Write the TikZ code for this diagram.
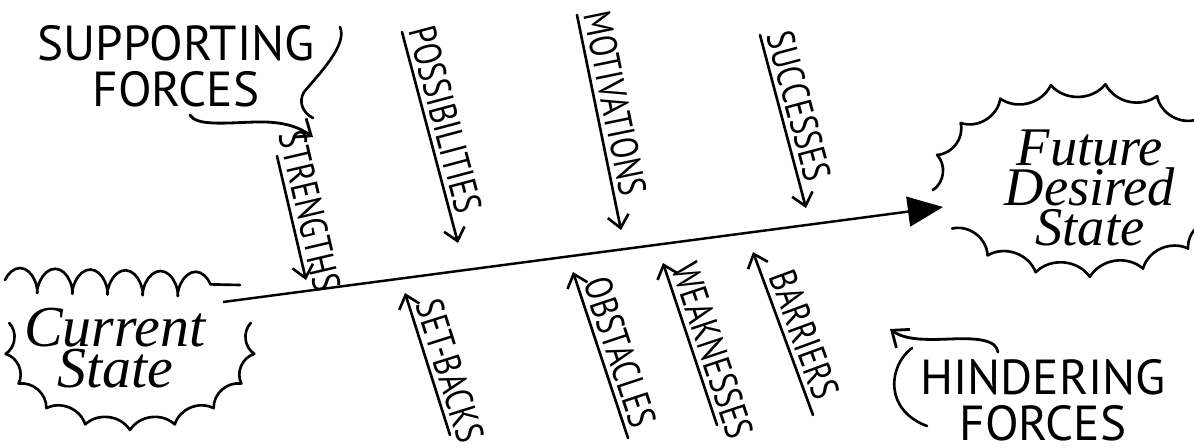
\documentclass[tikz,border=0pt]{standalone}
\usepackage{fontspec}
\usepackage{graphicx}
\usetikzlibrary{arrows.meta,decorations.pathmorphing,positioning}
\newfontfamily\capsfont{PT Sans}
\newfontfamily\cursivefont{Liberation Serif}
\newcommand{\squeeze}[1]{\scalebox{0.8}[1]{#1}}

\begin{document}
\begin{tikzpicture}[
    x=0.02cm, y=0.02cm,
    force/.style={-{Straight Barb[length=7pt,width=12pt]}, line width=1.5pt, line cap=round},
    pointer/.style={-{Straight Barb[length=8pt,width=13pt]}, line width=1.6pt, line cap=round},
    lbl/.style={sloped, above=2.5pt, inner sep=0pt, font=\capsfont\fontsize{22}{22}\selectfont},
    title/.style={align=center, inner sep=0pt, font=\capsfont\fontsize{28}{26}\selectfont},
    state/.style={align=center, inner sep=0pt, font=\cursivefont\itshape\fontsize{33}{23}\selectfont},
    scallop/.style={line width=1.5pt, line join=round, line cap=round},
    main/.style={-{Triangle[length=20pt,width=17pt]}, line width=1.4pt}
]
\useasboundingbox (0,0) rectangle (1194,-447);
\clip (0,0) rectangle (1194,-447);

% the two states
\node[state] (cur) at (115,-348) {Current\\State};
\node[state, font=\cursivefont\itshape\fontsize{31}{23}\selectfont] (fut) at (1090,-188) {Future\\Desired\\State};

% clouds
\begin{scope}[shift={(130,-345)}]
\draw[scallop] (165:125 and 85) foreach \a in {186,207,...,375} {to[bend left=50] (\a:125 and 85)};
\end{scope}
\draw[scallop, decorate, decoration={coil, amplitude=7pt, segment length=20pt}] (5,-280) -- (240,-285);
\begin{scope}[shift={(1082,-180)}]
\draw[scallop] (210:150 and 97) foreach \a in {231,252,...,546} {to[bend left=50] (\a:150 and 97)};
\end{scope}

% main arrow
\coordinate (mainS) at (223,-302);
\coordinate (mainE) at (943,-207);
\draw[main] (mainS) -- (mainE);

% supporting forces
\node[title] (sup) at (176,-66) {SUPPORTING\\FORCES};
\coordinate (supTail) at (190,-115);
\coordinate (supTip) at (313,-137);
\draw[pointer] (supTail) .. controls (196,-126) and (225,-123) .. (255,-122) .. controls (285,-121) and (300,-128) .. (supTip);
\draw[scallop] (340,-27) .. controls (348,-45) and (318,-75) .. (304,-92) .. controls (298,-102) and (303,-113) .. (313,-118);

\coordinate (strA) at (277,-156); \coordinate (strB) at (306,-280);
\coordinate (posA) at (402,-32);  \coordinate (posB) at (458,-243);
\coordinate (motA) at (577,-15);  \coordinate (motB) at (621,-230);
\coordinate (sucA) at (760,-35);  \coordinate (sucB) at (806,-208);
\draw[force] (strA) -- node[lbl, pos=0.48] (strL) {\squeeze{STRENGTHS}} (strB);
\draw[force] (posA) -- node[lbl, pos=0.44] (posL) {\squeeze{POSSIBILITIES}} (posB);
\draw[force] (motA) -- node[lbl, pos=0.43] (motL) {\squeeze{MOTIVATIONS}} (motB);
\draw[force] (sucA) -- node[lbl, pos=0.44] (sucL) {\squeeze{SUCCESSES}} (sucB);

% hindering forces
\node[title] (hin) at (1043,-400) {HINDERING\\FORCES};
\coordinate (hinTail) at (998,-352);
\coordinate (hinTip) at (890,-329);
\draw[pointer] (hinTail) .. controls (996,-339) and (975,-338) .. (950,-339) .. controls (925,-340) and (905,-340) .. (hinTip);
\draw[scallop] (912,-348) .. controls (888,-366) and (884,-410) .. (927,-426);

\coordinate (setA) at (450,-435); \coordinate (setB) at (405,-293);
\coordinate (obsA) at (628,-438); \coordinate (obsB) at (573,-272);
\coordinate (weaA) at (717,-425); \coordinate (weaB) at (663,-263);
\coordinate (barA) at (813,-415); \coordinate (barB) at (753,-252);
\draw[force] (setA) -- node[lbl, pos=0.41] (setL) {\squeeze{SET-BACKS}} (setB);
\draw[force] (obsA) -- node[lbl, pos=0.48] (obsL) {\squeeze{OBSTACLES}} (obsB);
\draw[force] (weaA) -- node[lbl, pos=0.42] (weaL) {\squeeze{WEAKNESSES}} (weaB);
\draw[force] (barA) -- node[lbl, pos=0.45] (barL) {\squeeze{BARRIERS}} (barB);
\end{tikzpicture}
\end{document}
